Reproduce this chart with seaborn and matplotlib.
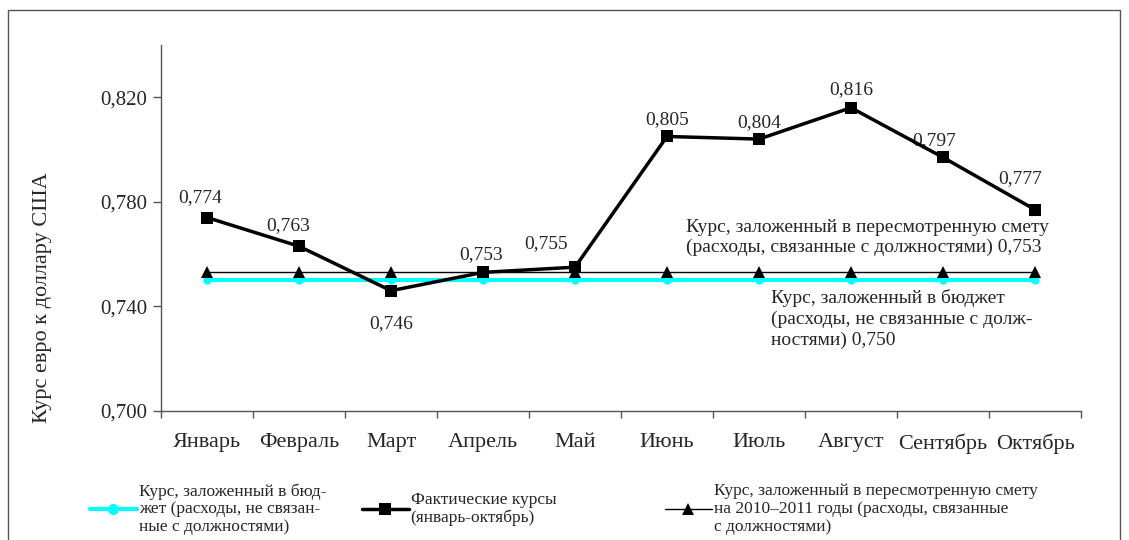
import matplotlib
matplotlib.use("Agg")
import matplotlib.pyplot as plt
from matplotlib.patches import Rectangle
from matplotlib.lines import Line2D
from matplotlib.ticker import FuncFormatter, FixedLocator
import pandas as pd
import seaborn as sns

# Data
months = ["Январь", "Февраль", "Март", "Апрель", "Май",
          "Июнь", "Июль", "Август", "Сентябрь", "Октябрь"]
actual = [0.774, 0.763, 0.746, 0.753, 0.755, 0.805, 0.804, 0.816, 0.797, 0.777]
budget = [0.750] * 10
revised = [0.753] * 10

# label offsets (points) for the value labels
label_offsets = [(-5, 8), (-8, 9), (0, -30), (-1.5, 7), (-21, 11),
                 (0, 6), (0, 6), (0, 7), (-6, 6), (-11, 16)]

df = pd.DataFrame({"Месяц": months, "actual": actual, "budget": budget, "revised": revised})

sns.set_theme(style="white")
plt.rcParams["font.family"] = ["Liberation Serif", "DejaVu Serif"]

fig = plt.figure(figsize=(11.29, 5.40), dpi=100)
ax = fig.add_axes([0.1426, 0.239, 0.8149, 0.6777])

sns.lineplot(data=df, x="Месяц", y="budget", ax=ax, color="#00FFFF", linewidth=3,
             marker="o", markersize=6, markeredgewidth=0, sort=False, zorder=2)
sns.lineplot(data=df, x="Месяц", y="revised", ax=ax, color="black", linewidth=1,
             marker="^", markersize=9, markeredgewidth=0, sort=False, zorder=3)
sns.lineplot(data=df, x="Месяц", y="actual", ax=ax, color="black", linewidth=2.5,
             marker="s", markersize=8, markeredgewidth=0, sort=False, zorder=4)

for i, (v, off) in enumerate(zip(actual, label_offsets)):
    ax.annotate(f"{v:.3f}".replace(".", ","), (i, v), xytext=off, textcoords="offset points",
                ha="center", va="bottom", fontsize=14)

ax.text(5.21, 0.7663, "Курс, заложенный в пересмотренную смету\n(расходы, связанные с должностями) 0,753",
        fontsize=14, ha="left", va="center", linespacing=1.25)
ax.text(6.13, 0.7352, "Курс, заложенный в бюджет\n(расходы, не связанные с долж-\nностями) 0,750",
        fontsize=14, ha="left", va="center", linespacing=1.25)

ax.set_xlim(-0.5, 9.5)
ax.set_ylim(0.70, 0.84)
ax.set_yticks([0.70, 0.74, 0.78, 0.82])
ax.yaxis.set_major_formatter(FuncFormatter(lambda v, p: f"{v:.3f}".replace(".", ",")))
ax.xaxis.set_major_locator(FixedLocator([i - 0.5 for i in range(11)]))
ax.xaxis.set_minor_locator(FixedLocator(range(10)))
ax.set_xticklabels([""] * 11)
ax.set_xticklabels(months, minor=True)
ax.tick_params(axis="x", which="major", length=5, width=1, color="#555555", direction="out", bottom=True)
ax.tick_params(axis="x", which="minor", length=0, labelsize=16, pad=16)
ax.tick_params(axis="y", length=6, width=1, color="#555555", direction="out", left=True, labelsize=15, pad=4)
ax.set_xlabel("")
ax.set_ylabel("Курс евро к доллару США", fontsize=16)
ax.yaxis.set_label_coords(-0.118, 0.31)

for s in ["top", "right"]:
    ax.spines[s].set_visible(False)
for s in ["left", "bottom"]:
    ax.spines[s].set_color("#555555")
    ax.spines[s].set_linewidth(1)

# legends
leg_kw = dict(frameon=False, fontsize=12.5, handlelength=2.7, handletextpad=0.1,
              labelspacing=0, borderpad=0, borderaxespad=0)
h1 = Line2D([], [], color="#00FFFF", linewidth=3, marker="o", markersize=8, markeredgewidth=0)
h2 = Line2D([], [], color="black", linewidth=2.5, marker="s", markersize=8, markeredgewidth=0)
h3 = Line2D([], [], color="black", linewidth=1, marker="^", markersize=9, markeredgewidth=0)
l1 = fig.legend([h1], ["Курс, заложенный в бюд-\nжет (расходы, не связан-\nные с должностями)"],
                loc="center left", bbox_to_anchor=(0.0797, 0.057), **leg_kw)
l2 = fig.legend([h2], ["Фактические курсы\n(январь-октябрь)"],
                loc="center left", bbox_to_anchor=(0.3206, 0.057), **leg_kw)
l3 = fig.legend([h3], ["Курс, заложенный в пересмотренную смету\nна 2010–2011 годы (расходы, связанные\nс должностями)"],
                loc="center left", bbox_to_anchor=(0.589, 0.057), **leg_kw)
for lg in (l1, l2, l3):
    for t in lg.get_texts():
        t.set_linespacing(1.15)

# outer frame
fig.patches.append(Rectangle((8 / 1129, -0.05), 1112 / 1129, 1.05 - 10 / 540,
                             transform=fig.transFigure, fill=False, edgecolor="#555555", linewidth=1))

fig.savefig("out.png", dpi=100)
